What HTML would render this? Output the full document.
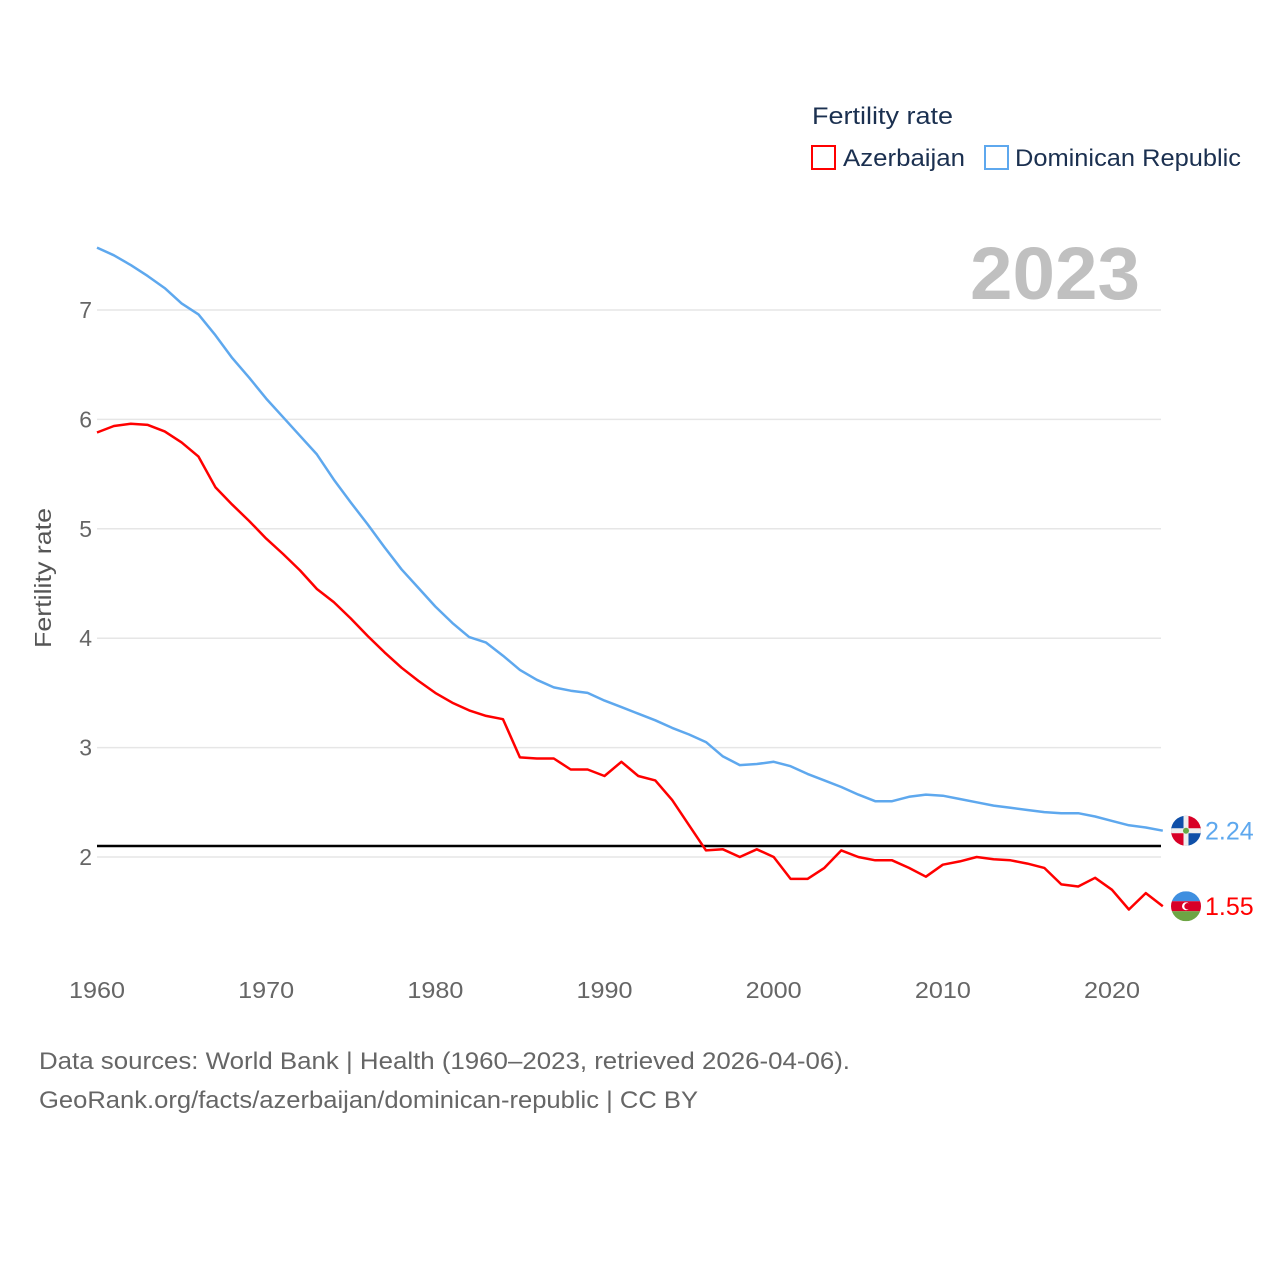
<!DOCTYPE html>
<html><head><meta charset="utf-8"><style>
html,body{margin:0;padding:0;background:#fff;}
body{width:1280px;height:1280px;overflow:hidden;font-family:"Liberation Sans",sans-serif;}
</style></head><body>
<svg id="chart" width="1280" height="1280" viewBox="0 0 1280 1280" font-family="Liberation Sans, sans-serif">
  <g>
    <text x="812" y="124" font-size="24" fill="#1b3050" textLength="141" lengthAdjust="spacingAndGlyphs">Fertility rate</text>
    <rect x="812" y="146" width="23" height="23" fill="none" stroke="#ff0000" stroke-width="2"/>
    <text x="843" y="166" font-size="24" fill="#1b3050" textLength="122" lengthAdjust="spacingAndGlyphs">Azerbaijan</text>
    <rect x="985" y="146" width="23" height="23" fill="none" stroke="#5ea8ee" stroke-width="2"/>
    <text x="1015" y="166" font-size="24" fill="#1b3050" textLength="226" lengthAdjust="spacingAndGlyphs">Dominican Republic</text>
  </g>
  <text x="1140" y="299" font-size="74" font-weight="bold" fill="#c0c0c0" text-anchor="end" textLength="170" lengthAdjust="spacingAndGlyphs">2023</text>
  <g id="grid"></g>
  <g id="yticks"></g>
  <g id="xticks"></g>
  <text transform="translate(51,578) rotate(-90)" font-size="23" fill="#555" text-anchor="middle" textLength="140" lengthAdjust="spacingAndGlyphs">Fertility rate</text>
  <g id="series"></g>
  <text x="39" y="1069" font-size="24" fill="#666" textLength="811" lengthAdjust="spacingAndGlyphs">Data sources: World Bank | Health (1960–2023, retrieved 2026-04-06).</text>
  <text x="39" y="1108" font-size="24" fill="#666" textLength="659" lengthAdjust="spacingAndGlyphs">GeoRank.org/facts/azerbaijan/dominican-republic | CC BY</text>
</svg>
<script>
const years = [];for(let y=1960;y<=2023;y++)years.push(y);
const azerbaijan = [5.88,5.94,5.96,5.95,5.89,5.79,5.66,5.38,5.22,5.07,4.91,4.77,4.62,4.45,4.33,4.18,4.02,3.87,3.73,3.61,3.50,3.41,3.34,3.29,3.26,2.91,2.90,2.90,2.80,2.80,2.74,2.87,2.74,2.70,2.52,2.29,2.06,2.07,2.00,2.07,2.00,1.80,1.80,1.90,2.06,2.00,1.97,1.97,1.90,1.82,1.93,1.96,2.00,1.98,1.97,1.94,1.90,1.75,1.73,1.81,1.70,1.52,1.67,1.55];
const dominican = [7.57,7.50,7.41,7.31,7.20,7.06,6.96,6.77,6.56,6.38,6.19,6.02,5.85,5.68,5.45,5.24,5.04,4.83,4.63,4.46,4.29,4.14,4.01,3.96,3.84,3.71,3.62,3.55,3.52,3.50,3.43,3.37,3.31,3.25,3.18,3.12,3.05,2.92,2.84,2.85,2.87,2.83,2.76,2.70,2.64,2.57,2.51,2.51,2.55,2.57,2.56,2.53,2.50,2.47,2.45,2.43,2.41,2.40,2.40,2.37,2.33,2.29,2.27,2.24];
const yTicks = [2,3,4,5,6,7];
const xTicks = [1960,1970,1980,1990,2000,2010,2020];
const replacementRate = [2.1];
const NS='http://www.w3.org/2000/svg';
const X0=97,X1=1161,Y0=857;
function xs(y){return X0+(y-1960)*(1112-97)/60;}
function ys(v){return Y0-(v-2)*109.4;}
function el(t,a,p){const e=document.createElementNS(NS,t);for(const k in a)e.setAttribute(k,a[k]);p.appendChild(e);return e;}
const grid=document.getElementById('grid'),yt=document.getElementById('yticks'),xt=document.getElementById('xticks'),ser=document.getElementById('series');
yTicks.forEach(v=>{
  const l=el('line',{x1:X0,x2:X1,y1:ys(v),y2:ys(v),stroke:'#e6e6e6','stroke-width':1.5},grid);
  
  
  const t=el('text',{x:92,y:ys(v)+8,'font-size':23,fill:'#666','text-anchor':'end'},yt);
  t.textContent=v;
  
  
});
xTicks.forEach(v=>{
  const t=el('text',{x:xs(v),y:998,'font-size':23,fill:'#666','text-anchor':'middle',textLength:56,lengthAdjust:'spacingAndGlyphs'},xt);
  t.textContent=v;
  
  
});
const rl=el('line',{x1:X0,x2:X1,y1:ys(replacementRate[0]),y2:ys(replacementRate[0]),stroke:'#000','stroke-width':2.5},ser);


function line(data,color,name){
  const d=data.map((v,i)=>(i?'L':'M')+xs(years[i]).toFixed(1)+','+ys(v).toFixed(1)).join('');
  const p=el('path',{d:d,fill:'none',stroke:color,'stroke-width':2.5,'stroke-linejoin':'round'},ser);
  
  
}
line(dominican,'#5ea8ee','dominican-republic');
line(azerbaijan,'#ff0000','azerbaijan');
function endLabel(data,color,name,flag){
  const v=data[data.length-1],cx=1186,cy=ys(v);
  const g=el('g',{},ser);
  
  
  const cp=el('clipPath',{id:'c'+name},g);el('circle',{cx:cx,cy:cy,r:15},cp);
  const f=el('g',{'clip-path':'url(#c'+name+')'},g);
  if(flag==='dr'){
    el('rect',{x:cx-15,y:cy-15,width:15,height:15,fill:'#0f4fa8'},f);
    el('rect',{x:cx,y:cy-15,width:15,height:15,fill:'#d80027'},f);
    el('rect',{x:cx-15,y:cy,width:15,height:15,fill:'#d80027'},f);
    el('rect',{x:cx,y:cy,width:15,height:15,fill:'#0f4fa8'},f);
    el('rect',{x:cx-15,y:cy-2.5,width:30,height:5,fill:'#eee'},f);
    el('rect',{x:cx-2.5,y:cy-15,width:5,height:30,fill:'#eee'},f);
    el('circle',{cx:cx,cy:cy,r:3,fill:'#6a4'},f);
  }else{
    el('rect',{x:cx-15,y:cy-15,width:30,height:10,fill:'#3f8fe0'},f);
    el('rect',{x:cx-15,y:cy-5,width:30,height:10,fill:'#d80027'},f);
    el('rect',{x:cx-15,y:cy+5,width:30,height:10,fill:'#6da544'},f);
    el('circle',{cx:cx,cy:cy,r:4,fill:'#fff'},f);
    el('circle',{cx:cx+1.5,cy:cy,r:3.2,fill:'#d80027'},f);
  }
  const t=el('text',{x:1205,y:cy+9,'font-size':25,fill:color},ser);
  t.textContent=v.toFixed(2);
  
  
}
endLabel(dominican,'#5ea8ee','dominican-republic','dr');
endLabel(azerbaijan,'#ff0000','azerbaijan','az');
</script>
</body></html>
